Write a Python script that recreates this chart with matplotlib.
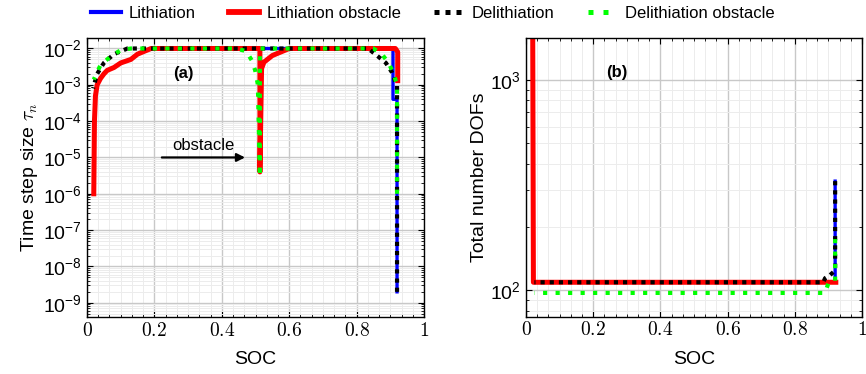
import matplotlib
matplotlib.use("Agg")
import matplotlib.pyplot as plt
from matplotlib.patches import FancyArrowPatch
from matplotlib.ticker import LogLocator, MultipleLocator, NullFormatter

plt.rcParams["font.family"] = ["Liberation Sans", "DejaVu Sans"]
plt.rcParams["mathtext.fontset"] = "cm"

# ---- panel (a): time step size vs SOC ----
li_soc = [0.020, 0.021, 0.022, 0.025, 0.030, 0.040, 0.050, 0.060, 0.080, 0.100, 0.130, 0.150, 0.190,
          0.908, 0.908, 0.920, 0.920]
li_tau = [1e-6, 1e-5, 1e-4, 5e-4, 1e-3, 1.5e-3, 2e-3, 2.5e-3, 3e-3, 4e-3, 5e-3, 7e-3, 1e-2,
          1e-2, 4e-4, 4e-4, 2e-9]

lio_soc = [0.020, 0.021, 0.022, 0.025, 0.030, 0.040, 0.050, 0.060, 0.080, 0.100, 0.130, 0.150, 0.190,
           0.505, 0.513, 0.513, 0.518, 0.525, 0.550, 0.600, 0.915, 0.922, 0.922]
lio_tau = [1e-6, 1e-5, 1e-4, 5e-4, 1e-3, 1.5e-3, 2e-3, 2.5e-3, 3e-3, 4e-3, 5e-3, 7e-3, 1e-2,
           1e-2, 1e-2, 4e-6, 2.8e-3, 4.2e-3, 6.4e-3, 1e-2, 1e-2, 8e-3, 1.3e-3]

de_soc = [0.920, 0.920, 0.914, 0.905, 0.887, 0.864, 0.834, 0.120, 0.080, 0.050, 0.030, 0.018]
de_tau = [2e-9, 1e-3, 1.3e-3, 2.2e-3, 4e-3, 6e-3, 1e-2, 1e-2, 7e-3, 4e-3, 2e-3, 8e-4]

deo_soc = [0.920, 0.920, 0.910, 0.895, 0.875, 0.850, 0.520, 0.513, 0.513, 0.507, 0.499, 0.489,
           0.472, 0.440, 0.130, 0.100, 0.070, 0.040, 0.020]
deo_tau = [1e-6, 1e-3, 2e-3, 4e-3, 7e-3, 1e-2, 1e-2, 1e-2, 3e-6, 1e-3, 2.5e-3, 4.7e-3,
           8.5e-3, 1e-2, 1e-2, 9e-3, 6e-3, 3.5e-3, 1.4e-3]

# ---- panel (b): number of DOFs vs SOC ----
li_dof_soc = [0.020, 0.022, 0.920, 0.920]
li_dof = [1600, 109, 109, 330]

lio_dof_soc = [0.020, 0.022, 0.922]
lio_dof = [1600, 109, 109]

de_dof_soc = [0.920, 0.920, 0.915, 0.905, 0.890, 0.885, 0.025]
de_dof = [330, 125, 122, 118, 114, 109, 109]

deo_dof_soc = [0.920, 0.920, 0.900, 0.890, 0.025]
deo_dof = [175, 110, 108, 97, 97]

labels = ["Lithiation", "Lithiation obstacle", "Delithiation", "Delithiation obstacle"]

styles = [
    dict(color="#0000ff", lw=2.4, ls="-"),
    dict(color="#ff0000", lw=3.6, ls="-"),
    dict(color="black", lw=3.0, ls=(0, (1, 1.2)), dash_capstyle="butt"),
    dict(color="#00ff00", lw=3.0, ls=(0, (1, 2)), dash_capstyle="butt"),
]

fig = plt.figure(figsize=(8.66, 3.74), dpi=100)
ax1 = fig.add_axes([0.1005, 0.1516, 0.3891, 0.7471])
ax2 = fig.add_axes([0.6074, 0.1534, 0.3880, 0.7442])

series_a = [(li_soc, li_tau), (lio_soc, lio_tau), (de_soc, de_tau), (deo_soc, deo_tau)]
series_b = [(li_dof_soc, li_dof), (lio_dof_soc, lio_dof), (de_dof_soc, de_dof), (deo_dof_soc, deo_dof)]

for (x, y), st in zip(series_a, styles):
    ax1.plot(x, y, **st)
for (x, y), st in zip(series_b, styles):
    ax2.plot(x, y, **st)

ax1.set_ylim(10 ** -9.40, 10 ** -1.708)
ax2.set_ylim(10 ** 1.874, 10 ** 3.198)

for ax in (ax1, ax2):
    ax.set_yscale("log")
    ax.set_xlim(0, 1)
    ax.xaxis.set_major_locator(MultipleLocator(0.2))
    ax.xaxis.set_minor_locator(MultipleLocator(0.2 / 6))
    ax.yaxis.set_major_locator(LogLocator(base=10, numticks=20))
    ax.yaxis.set_minor_locator(LogLocator(base=10, subs=range(2, 10), numticks=20))
    ax.yaxis.set_minor_formatter(NullFormatter())
    ax.xaxis.set_major_formatter(plt.FuncFormatter(lambda v, p: "$%g$" % round(v, 2)))
    ax.grid(which="major", color="#c8c8c8", lw=1.0)
    ax.grid(which="minor", color="#ececec", lw=0.7)
    ax.set_axisbelow(True)
    ax.tick_params(which="both", direction="in", top=True, right=True, labelsize=14)
    ax.tick_params(which="major", length=4, width=0.8)
    ax.tick_params(which="minor", length=2.5, width=0.6)
    for sp in ax.spines.values():
        sp.set_linewidth(1.0)
    ax.set_xlabel("SOC", fontsize=14, labelpad=8)

ax1.set_ylabel(r"Time step size $\tau_n$", fontsize=14, labelpad=2)
ax2.set_ylabel("Total number DOFs", fontsize=14, labelpad=2)

ax1.text(0.285, 0.874, "(a)", transform=ax1.transAxes, fontsize=12, fontweight="bold",
         ha="center", va="center")
ax2.text(0.271, 0.876, "(b)", transform=ax2.transAxes, fontsize=12, fontweight="bold",
         ha="center", va="center")

# arrow pointing at the obstacle
ax1.add_patch(FancyArrowPatch((0.222, 1e-5), (0.469, 1e-5), arrowstyle="-|>",
                              mutation_scale=12, lw=1.6, color="black", shrinkA=0, shrinkB=0))
ax1.text(0.344, 10 ** -4.66, "obstacle", fontsize=12, ha="center", va="center")

leg_handles = [plt.Line2D([], [], color=s["color"], lw=s["lw"] + 0.6, ls=s["ls"],
                          dash_capstyle="butt") for s in styles]
fig.legend(leg_handles, labels, loc="upper center", bbox_to_anchor=(0.5, 1.025), ncol=4,
           frameon=False, fontsize=12, handlelength=1.8, columnspacing=2.0, handletextpad=0.45)

fig.savefig("out.png", dpi=100)
